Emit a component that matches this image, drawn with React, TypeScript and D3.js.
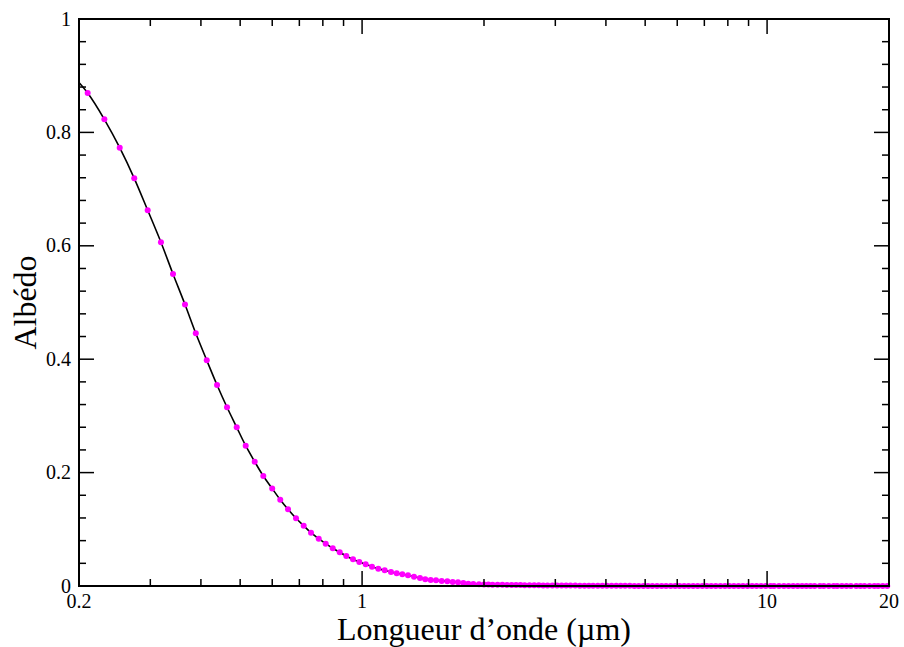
import React from "react";
import * as d3 from "d3";

// ---- Data ----
const headWavelengths = [
  0.2101, 0.231, 0.2521, 0.2738, 0.2956, 0.3187, 0.3413, 0.3654, 0.3885, 0.4135,
  0.4384, 0.464, 0.4903, 0.516, 0.5431, 0.5703, 0.5998, 0.628, 0.6563, 0.6869,
  0.7175, 0.748, 0.7815, 0.8132, 0.8463, 0.8807, 0.9142, 0.9496, 0.9843, 1.0207,
  1.0579, 1.0965, 1.1371, 1.1785, 1.2173, 1.2568, 1.2981, 1.3432, 1.3898, 1.4323,
  1.477, 1.5222, 1.5723, 1.6232, 1.6739, 1.7252, 1.778, 1.8293, 1.8821, 1.9439,
];
const headAlbedo = [
  0.8695, 0.8231, 0.773, 0.719, 0.6626, 0.6062, 0.5503, 0.4965, 0.4457, 0.3981,
  0.3545, 0.3152, 0.2799, 0.2474, 0.2192, 0.194, 0.172, 0.1522, 0.1353, 0.1194,
  0.1063, 0.094, 0.0834, 0.0746, 0.0665, 0.0594, 0.0529, 0.0471, 0.0423, 0.0383,
  0.034, 0.0305, 0.0277, 0.0247, 0.0224, 0.0206, 0.0189, 0.0164, 0.0141, 0.0118,
  0.0106, 0.0101, 0.0088, 0.0083, 0.0071, 0.0065, 0.0053, 0.0041, 0.0035, 0.003,
];
const tailWavelengths = [
  2.0, 2.05, 2.1, 2.16, 2.22, 2.28, 2.34, 2.4, 2.46, 2.52,
  2.59, 2.66, 2.73, 2.8, 2.87, 2.95, 3.03, 3.11, 3.19, 3.27,
  3.36, 3.45, 3.54, 3.63, 3.72, 3.82, 3.92, 4.02, 4.13, 4.24,
  4.35, 4.46, 4.58, 4.7, 4.82, 4.95, 5.08, 5.21, 5.35, 5.49,
  5.63, 5.78, 5.93, 6.08, 6.24, 6.4, 6.57, 6.74, 6.92, 7.1,
  7.28, 7.47, 7.67, 7.87, 8.07, 8.28, 8.5, 8.72, 8.95, 9.18,
  9.42, 9.67, 9.92, 10.2, 10.4, 10.7, 11.0, 11.3, 11.6, 11.9,
  12.2, 12.5, 12.8, 13.1, 13.5, 13.8, 14.2, 14.6, 14.9, 15.3,
  15.7, 16.1, 16.6, 17.0, 17.4, 17.9, 18.4, 18.8, 19.3, 19.8,
];
const tailAlbedo = [
  0.0027, 0.0025, 0.0023, 0.0021, 0.002, 0.0019, 0.0018, 0.0017, 0.0016, 0.0015,
  0.0014, 0.0013, 0.0012, 0.0011, 0.001, 0.001, 0.0009, 0.0008, 0.0008, 0.0007,
  0.0007, 0.0006, 0.0006, 0.0005, 0.0005, 0.0005, 0.0004, 0.0004, 0.0004, 0.0003,
  0.0003, 0.0003, 0.0003, 0.0002, 0.0002, 0.0002, 0.0002, 0.0002, 0.0001, 0.0001,
  0.0001, 0.0001, 0.0001, 0.0001, 0.0001, 0.0001, 0, 0, 0, 0,
  0, 0, 0, 0, 0, 0, 0, 0, 0, 0,
  0, 0, 0, 0, 0, 0, 0, 0, 0, 0,
  0, 0, 0, 0, 0, 0, 0, 0, 0, 0,
  0, 0, 0, 0, 0, 0, 0, 0, 0, 0,
];
const lineStartWavelength = 0.2;
const lineStartAlbedo = 0.888;

const xMajorTicks = [1, 10];
const xMinorTicks = [0.3, 0.4, 0.5, 0.6, 0.7, 0.8, 0.9, 2, 3, 4, 5, 6, 7, 8, 9];
const xTickLabels = [0.2, 1, 10, 20];
const yMajorTicks = [0, 0.2, 0.4, 0.6, 0.8, 1];
const yMinorTicks = [0.04, 0.08, 0.12, 0.16, 0.24, 0.28, 0.32, 0.36, 0.44, 0.48, 0.52, 0.56, 0.64, 0.68, 0.72, 0.76, 0.84, 0.88, 0.92, 0.96];
const xTitle = "Longueur d\u2019onde (\u00b5m)";
const yTitle = "Albédo";

// ---- Layout ----
const W = 904;
const H = 647;
const L = 79;
const R = 889;
const T = 19;
const B = 586;
const FONT = "'Liberation Serif', 'Times New Roman', serif";

export default function App() {
  const x = d3.scaleLog().domain([0.2, 20]).range([L, R]);
  const y = d3.scaleLinear().domain([0, 1]).range([B, T]);

  const points: [number, number][] = [
    ...headWavelengths.map((w, i) => [w, headAlbedo[i]] as [number, number]),
    ...tailWavelengths.map((w, i) => [w, tailAlbedo[i]] as [number, number]),
  ];
  const linePts: [number, number][] = [[lineStartWavelength, lineStartAlbedo], ...points];
  const lineGen = d3
    .line<[number, number]>()
    .x((d) => x(d[0]))
    .y((d) => y(d[1]))
    .curve(d3.curveMonotoneX);

  const majorLen = 15;
  const minorLen = 7;
  const fmt = (v: number) => String(v);

  return (
    <svg
      width={W}
      height={H}
      style={{ position: "absolute", left: 0, top: 0, background: "#fff" }}
    >
      <rect x={0} y={0} width={W} height={H} fill="#fff" />
      <path d={lineGen(linePts) || ""} fill="none" stroke="#000" strokeWidth={1.6} />
      {points.map((p, i) => (
        <circle key={i} cx={x(p[0])} cy={y(p[1])} r={3} fill="#ff00ff" />
      ))}
      {/* ticks */}
      <g stroke="#000" strokeWidth={1.5}>
        {xMajorTicks.map((t) => (
          <g key={"xM" + t}>
            <line x1={x(t)} x2={x(t)} y1={B} y2={B - majorLen} />
            <line x1={x(t)} x2={x(t)} y1={T} y2={T + majorLen} />
          </g>
        ))}
        {xMinorTicks.map((t) => (
          <g key={"xm" + t}>
            <line x1={x(t)} x2={x(t)} y1={B} y2={B - minorLen} />
            <line x1={x(t)} x2={x(t)} y1={T} y2={T + minorLen} />
          </g>
        ))}
        {yMajorTicks.map((t) => (
          <g key={"yM" + t}>
            <line x1={L} x2={L + majorLen} y1={y(t)} y2={y(t)} />
            <line x1={R} x2={R - majorLen} y1={y(t)} y2={y(t)} />
          </g>
        ))}
        {yMinorTicks.map((t) => (
          <g key={"ym" + t}>
            <line x1={L} x2={L + minorLen} y1={y(t)} y2={y(t)} />
            <line x1={R} x2={R - minorLen} y1={y(t)} y2={y(t)} />
          </g>
        ))}
      </g>
      <rect x={L} y={T} width={R - L} height={B - T} fill="none" stroke="#000" strokeWidth={2} />
      {/* labels */}
      <g fontFamily={FONT} fontSize={20} fill="#000">
        {xTickLabels.map((t) => (
          <text key={"xl" + t} x={x(t)} y={607.5} textAnchor="middle">
            {fmt(t)}
          </text>
        ))}
        {yMajorTicks.map((t) => (
          <text key={"yl" + t} x={71} y={y(t)} dy="0.33em" textAnchor="end">
            {fmt(t)}
          </text>
        ))}
      </g>
      <text
        x={(L + R) / 2}
        y={639.5}
        textAnchor="middle"
        fontFamily={FONT}
        fontSize={32}
        fill="#000"
      >
        {xTitle}
      </text>
      <text
        transform={`translate(36, ${(T + B) / 2}) rotate(-90)`}
        textAnchor="middle"
        fontFamily={FONT}
        fontSize={32}
        fill="#000"
      >
        {yTitle}
      </text>
    </svg>
  );
}
